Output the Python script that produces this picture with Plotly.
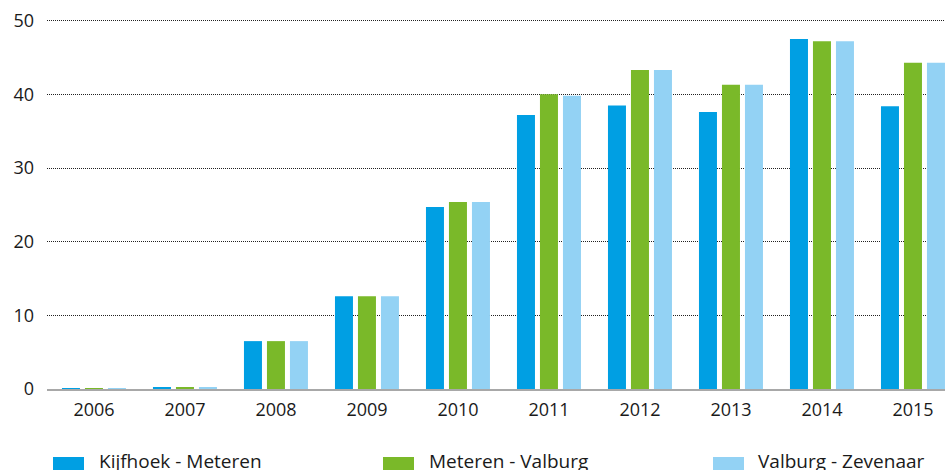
import plotly.graph_objects as go

years = ["2006", "2007", "2008", "2009", "2010", "2011", "2012", "2013", "2014", "2015"]
series_names = ["Kijfhoek - Meteren", "Meteren - Valburg", "Valburg - Zevenaar"]
kijfhoek_meteren = [0.02, 0.25, 6.5, 12.6, 24.7, 37.2, 38.5, 37.6, 47.5, 38.4]
meteren_valburg = [0.02, 0.25, 6.5, 12.6, 25.4, 40.0, 43.3, 41.3, 47.2, 44.3]
valburg_zevenaar = [0.02, 0.25, 6.5, 12.6, 25.4, 39.8, 43.3, 41.3, 47.2, 44.3]
colors = ["#009FE3", "#7AB929", "#93D2F4"]
y_ticks = [0, 10, 20, 30, 40, 50]

W, H = 945, 470
ML, MR, MT, MB = 47, 0, 17, 81
PW, PH = W - ML - MR, H - MT - MB

fig = go.Figure()
for name, vals, col in zip(series_names, [kijfhoek_meteren, meteren_valburg, valburg_zevenaar], colors):
    fig.add_trace(go.Bar(x=years, y=vals, name=name, marker=dict(color=col, line=dict(width=0)),
                         showlegend=False))

def px_x(px):
    return (px - ML) / PW

def px_y(py):
    return (H - MB - py) / PH

# custom legend: swatch + label
legend_sw_x = [53, 383, 713]
legend_tx_x = [97, 427, 756]
shapes = []
annotations = []
for name, col, sx, tx in zip(series_names, colors, legend_sw_x, legend_tx_x):
    shapes.append(dict(type="rect", xref="paper", yref="paper",
                       x0=px_x(sx), x1=px_x(sx + 31), y0=px_y(457), y1=px_y(472),
                       fillcolor=col, line=dict(width=0)))
    annotations.append(dict(text=name, xref="paper", yref="paper", x=px_x(tx), y=px_y(461),
                            xanchor="left", yanchor="middle", showarrow=False,
                            font=dict(family="Open Sans", size=19, color="#1a1a1a")))

fig.update_layout(
    width=W, height=H,
    margin=dict(l=ML, r=MR, t=MT, b=MB, pad=0),
    paper_bgcolor="white", plot_bgcolor="white",
    barmode="group", bargap=0.242, bargroupgap=0.217,
    font=dict(family="Open Sans", size=18, color="#1a1a1a"),
    shapes=shapes, annotations=annotations,
    xaxis=dict(type="category", range=[-0.516, 9.352], showgrid=False, zeroline=False,
               showline=True, linecolor="#a8a8a8", linewidth=2, ticks="",
               tickfont=dict(family="Open Sans", size=18, color="#1a1a1a"),
               ticklabelstandoff=3),
    yaxis=dict(range=[0, 50.5], tickvals=y_ticks, showgrid=True, gridcolor="#222222",
               gridwidth=1, griddash="1px,1px", zeroline=False, showline=False, ticks="",
               tickfont=dict(family="Open Sans", size=18, color="#1a1a1a"),
               ticklabelstandoff=12),
)

fig.write_html("out.html")
